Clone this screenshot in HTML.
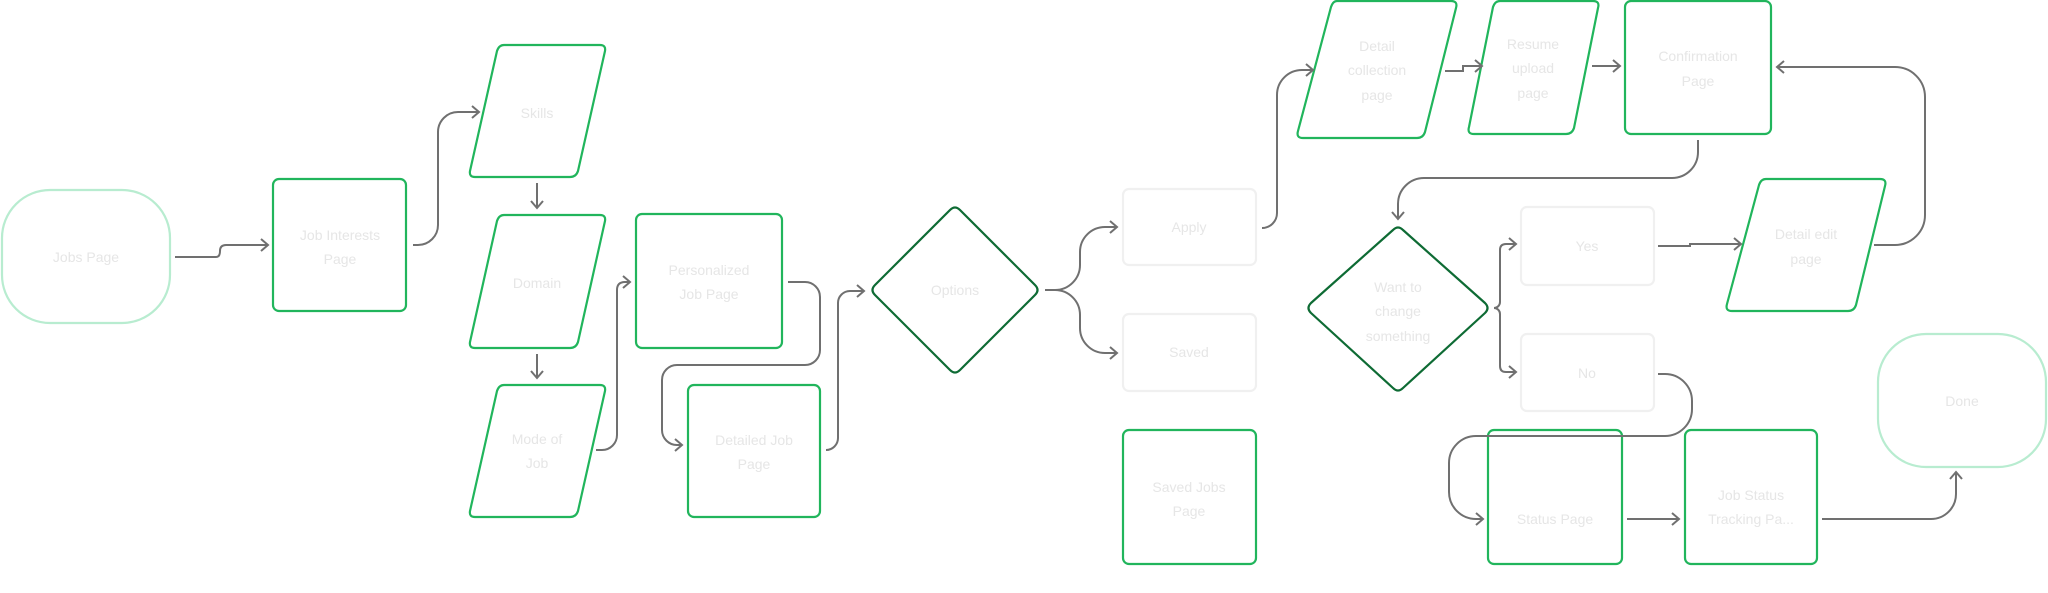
<!DOCTYPE html>
<html><head><meta charset="utf-8"><style>
html,body{margin:0;padding:0;background:#fff;width:2048px;height:593px;overflow:hidden}
svg text{font-family:"Liberation Sans",sans-serif;font-size:14px;fill:#e6e6e6;text-anchor:middle}
</style></head><body>
<svg width="2048" height="593" viewBox="0 0 2048 593" xmlns="http://www.w3.org/2000/svg">
<defs>
<marker id="a" markerWidth="12" markerHeight="14" refX="9" refY="7" orient="auto" markerUnits="userSpaceOnUse">
<path d="M2,1 L9,7 L2,13" fill="none" stroke="#707070" stroke-width="2"/>
</marker>
</defs>
<g fill="none" stroke-width="2.2" stroke-linejoin="round">
<rect x="2" y="190" width="168" height="133" rx="48" stroke="#b8ecd0"/>
<rect x="1878" y="334" width="168" height="133" rx="48" stroke="#b8ecd0"/>
<g stroke="#21b55c">
<rect x="273" y="179" width="133" height="132" rx="6"/>
<rect x="636" y="214" width="146" height="134" rx="6"/>
<rect x="688" y="385" width="132" height="132" rx="6"/>
<rect x="1123" y="430" width="133" height="134" rx="6"/>
<rect x="1625" y="1" width="146" height="133" rx="6"/>
<rect x="1488" y="430" width="134" height="134" rx="6"/>
<rect x="1685" y="430" width="132" height="134" rx="6"/>
<path d="M504,45 H600 Q606,45 605,51 L578,171 Q576,177 570,177 H475 Q469,177 470,171 L497,51 Q499,45 504,45 Z"/>
<path d="M504,215 H600 Q606,215 605,221 L578,342 Q576,348 570,348 H475 Q469,348 470,342 L497,221 Q499,215 504,215 Z"/>
<path d="M504,385 H600 Q606,385 605,391 L578,511 Q576,517 570,517 H475 Q469,517 470,511 L497,391 Q499,385 504,385 Z"/>
<path d="M1337,1 H1451 Q1458,1 1456,8 L1425,132 Q1423,138 1417,138 H1303 Q1296,138 1298,131 L1331,7 Q1333,1 1337,1 Z"/>
<path d="M1500,1 H1593 Q1600,1 1598,8 L1574,128 Q1572,134 1566,134 H1474 Q1467,134 1469,127 L1493,7 Q1495,1 1500,1 Z"/>
<path d="M1766,179 H1880 Q1887,179 1885,186 L1856,305 Q1854,311 1848,311 H1732 Q1725,311 1727,304 L1759,185 Q1761,179 1766,179 Z"/>
</g>
<g stroke="#0e6b34">
<path d="M950,210 Q955,205 960,210 L1035,285 Q1040,290 1035,295 L960,370 Q955,375 950,370 L875,295 Q870,290 875,285 Z"/>
<path d="M1393,230 Q1398,225 1403,230 L1485,303 Q1490,308 1485,313 L1403,388 Q1398,393 1393,388 L1311,313 Q1306,308 1311,303 Z"/>
</g>
<g stroke="#f0f0f0">
<rect x="1123" y="189" width="133" height="76" rx="6"/>
<rect x="1123" y="314" width="133" height="77" rx="6"/>
<rect x="1521" y="207" width="133" height="78" rx="6"/>
<rect x="1521" y="334" width="133" height="77" rx="6"/>
</g>
</g>
<g fill="none" stroke="#707070" stroke-width="2" marker-end="url(#a)">
<path d="M175,257 H216 Q220,257 220,251 Q220,245 226,245 H268"/>
<path d="M413,245 H418 A20,20 0 0 0 438,225 V132 A20,20 0 0 1 458,112 H479"/>
<path d="M537,183 V208"/>
<path d="M537,354 V378"/>
<path d="M596,450 H602 A15,15 0 0 0 617,435 V290 Q617,282 625,282 H630"/>
<path d="M788,282 H805 A15,15 0 0 1 820,297 V350 A15,15 0 0 1 805,365 H677 A15,15 0 0 0 662,380 V430 A15,15 0 0 0 677,445 H682"/>
<path d="M826,450 A12,12 0 0 0 838,438 V303 A12,12 0 0 1 850,291 H864"/>
<path d="M1045,290 H1055 A25,25 0 0 0 1080,265 V252 A25,25 0 0 1 1105,227 H1117"/>
<path d="M1045,290 H1055 A25,25 0 0 1 1080,315 V328 A25,25 0 0 0 1105,353 H1117"/>
<path d="M1262,228 A15,15 0 0 0 1277,213 V95 A25,25 0 0 1 1302,70 H1313"/>
<path d="M1445,71 H1463 V66 H1482"/>
<path d="M1592,66 H1620"/>
<path d="M1698,140 V152 A26,26 0 0 1 1672,178 H1424 A26,26 0 0 0 1398,204 V219"/>
<path d="M1494,308 A6,6 0 0 0 1500,302 V250 Q1500,244 1506,244 H1516"/>
<path d="M1494,308 A6,6 0 0 1 1500,314 V366 Q1500,372 1506,372 H1516"/>
<path d="M1658,246 H1690 V244 H1741"/>
<path d="M1874,245 H1895 A30,30 0 0 0 1925,215 V97 A30,30 0 0 0 1895,67 H1777"/>
<path d="M1658,374 H1665 A27,27 0 0 1 1692,401 V409 A27,27 0 0 1 1665,436 H1476 A27,27 0 0 0 1449,463 V492 A27,27 0 0 0 1476,519 H1483"/>
<path d="M1627,519 H1679"/>
<path d="M1822,519 H1931 A25,25 0 0 0 1956,494 V472"/>
</g>
<text x="86" y="262">Jobs Page</text>
<text x="340" y="240">Job Interests</text><text x="340" y="264">Page</text>
<text x="537" y="118">Skills</text>
<text x="537" y="288">Domain</text>
<text x="537" y="444">Mode of</text><text x="537" y="468">Job</text>
<text x="709" y="275">Personalized</text><text x="709" y="299">Job Page</text>
<text x="754" y="445">Detailed Job</text><text x="754" y="469">Page</text>
<text x="955" y="295">Options</text>
<text x="1189" y="232">Apply</text>
<text x="1189" y="357">Saved</text>
<text x="1189" y="492">Saved Jobs</text><text x="1189" y="516">Page</text>
<text x="1377" y="51">Detail</text><text x="1377" y="75">collection</text><text x="1377" y="100">page</text>
<text x="1533" y="49">Resume</text><text x="1533" y="73">upload</text><text x="1533" y="98">page</text>
<text x="1698" y="61">Confirmation</text><text x="1698" y="86">Page</text>
<text x="1398" y="292">Want to</text><text x="1398" y="316">change</text><text x="1398" y="341">something</text>
<text x="1587" y="251">Yes</text>
<text x="1587" y="378">No</text>
<text x="1806" y="239">Detail edit</text><text x="1806" y="264">page</text>
<text x="1962" y="406">Done</text>
<text x="1555" y="524">Status Page</text>
<text x="1751" y="500">Job Status</text><text x="1751" y="524">Tracking Pa...</text>
</svg>
</body></html>
